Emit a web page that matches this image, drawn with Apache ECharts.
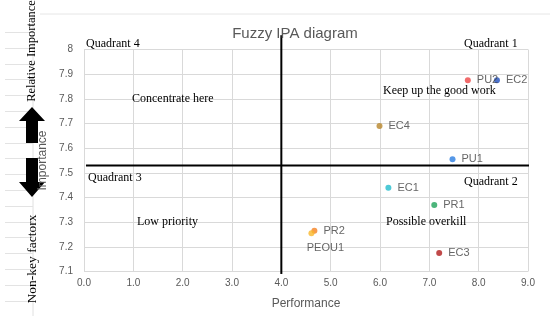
<!DOCTYPE html>
<html><head><meta charset="utf-8">
<script src="https://cdn.jsdelivr.net/npm/echarts@6/dist/echarts.min.js"></script>
<style>html,body{margin:0;padding:0;background:#fff}#c{width:550px;height:320px}</style>
</head><body><div id="c"></div>
<script>
var names = ['PU2','EC2','EC4','PU1','EC1','PR1','PR2','PEOU1','EC3'];
var performance = [7.78, 8.37, 5.99, 7.47, 6.17, 7.10, 4.67, 4.61, 7.20];
var importance = [7.875, 7.875, 7.69, 7.555, 7.44, 7.37, 7.265, 7.255, 7.175];
var colors = ['#ee4646','#1f4fbf','#b8862b','#2a7de1','#22bccc','#1fa35a','#f58220','#f9b82a','#b01c1c'];
var xTicks = ['0.0','1.0','2.0','3.0','4.0','5.0','6.0','7.0','8.0','9.0'];
var perfCut = 4.0;
var impCut = 7.53;

var chart = echarts.init(document.getElementById('c'));
var serif = '"Liberation Serif","DejaVu Serif",serif';
var sans = '"Liberation Sans",Arial,sans-serif';

var graphics = [];
graphics.push({type:'line', shape:{x1:40,y1:14,x2:550,y2:14}, style:{stroke:'#e6e6e6',lineWidth:1}, z:-1});
graphics.push({type:'line', shape:{x1:33,y1:14,x2:33,y2:316}, style:{stroke:'#e0e0e0',lineWidth:1}, z:-1});
for (var i = 0; i < 18; i++) {
  var yy = Math.round(32 + i * 15.8) + 0.5;
  graphics.push({type:'line', shape:{x1:5,y1:yy,x2:33,y2:yy}, style:{stroke:'#e3e3e3',lineWidth:1}, z:-1});
}
graphics.push({type:'polygon', shape:{points:[[32,107],[45,121],[38,121],[38,143],[26,143],[26,121],[19,121]]}, style:{fill:'#000'}});
graphics.push({type:'polygon', shape:{points:[[26,158],[38,158],[38,182],[45,182],[32,197],[19,182],[26,182]]}, style:{fill:'#000'}});
graphics.push({type:'text', x:32, y:51, rotation:Math.PI/2, style:{text:'Relative Importance', font:'12.5px '+serif, fill:'#000', textAlign:'center', textVerticalAlign:'middle'}});
graphics.push({type:'text', x:32, y:259, rotation:Math.PI/2, style:{text:'Non-key factorx', font:'13.5px '+serif, fill:'#000', textAlign:'center', textVerticalAlign:'middle'}});
function note(t, x, y){ graphics.push({type:'text', x:x, y:y, style:{text:t, font:'12px '+serif, fill:'#000', textVerticalAlign:'middle'}, z:10}); }
note('Quadrant 4', 86, 44);
note('Quadrant 1', 464, 44);
note('Quadrant 3', 88, 178);
note('Quadrant 2', 464, 182);
note('Concentrate here', 132, 99);
note('Keep up the good work', 383, 91);
note('Low priority', 137, 222);
note('Possible overkill', 386, 222);

var series = names.map(function(n, i){
  var lbl = {show:true, position:'right', distance:6, color:'#404040', fontSize:11, fontFamily:sans, formatter:n};
  if (n === 'PEOU1') { lbl = {show:true, position:'bottom', distance:6, offset:[14,0], color:'#404040', fontSize:11, fontFamily:sans, formatter:n}; }
  return {type:'scatter', name:n, symbolSize:6, itemStyle:{color:colors[i]}, data:[[performance[i], importance[i]]], label:lbl, z:5};
});
series.push({type:'line', data:[[perfCut,7.09],[perfCut,8.058]], clip:false, symbol:'none', lineStyle:{color:'#000',width:2}, silent:true, z:3});
series.push({type:'line', data:[[0.04,impCut],[9.02,impCut]], clip:false, symbol:'none', lineStyle:{color:'#000',width:2}, silent:true, z:3});

chart.setOption({
  animation:false,
  backgroundColor:'#fff',
  title:{text:'Fuzzy IPA diagram', left:290, top:21, textAlign:'center', textStyle:{fontFamily:sans, fontSize:15, fontWeight:'normal', color:'#595959'}},
  grid:{left:84, right:22, top:49.5, bottom:48.5},
  xAxis:{type:'value', min:0, max:9, interval:1, name:'Performance', nameLocation:'middle', nameGap:26,
    nameTextStyle:{fontFamily:sans, fontSize:12, color:'#595959'},
    axisLine:{show:false}, axisTick:{show:false},
    axisLabel:{fontFamily:sans, fontSize:10, color:'#595959', margin:7, formatter:function(v){return xTicks[Math.round(v)];}},
    splitLine:{lineStyle:{color:'#d9d9d9'}}},
  yAxis:{type:'value', min:7.1, max:8, interval:0.1, name:'Importance', nameLocation:'middle', nameGap:23,
    nameTextStyle:{fontFamily:sans, fontSize:12, color:'#595959'},
    axisLine:{show:false}, axisTick:{show:false},
    axisLabel:{fontFamily:sans, fontSize:10, color:'#595959', margin:11, formatter:function(v){return String(+v.toFixed(1));}},
    splitLine:{lineStyle:{color:'#d9d9d9'}}},
  graphic:graphics,
  series:series
});
</script></body></html>
